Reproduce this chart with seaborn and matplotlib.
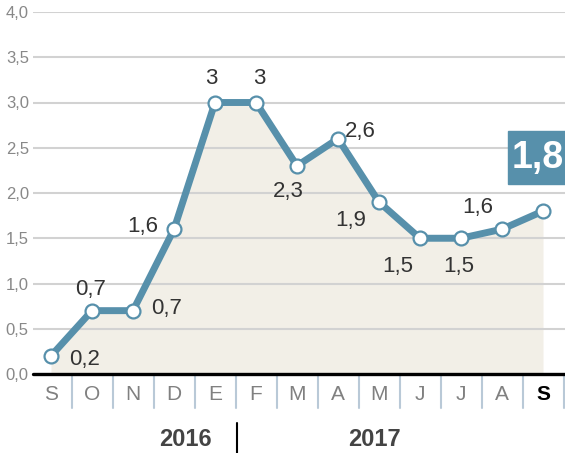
import matplotlib
matplotlib.use("Agg")
import matplotlib.pyplot as plt
import seaborn as sns
from matplotlib.patches import Rectangle
from matplotlib.lines import Line2D

# data
months = ["S", "O", "N", "D", "E", "F", "M", "A", "M", "J", "J", "A", "S"]
values = [0.2, 0.7, 0.7, 1.6, 3.0, 3.0, 2.3, 2.6, 1.9, 1.5, 1.5, 1.6, 1.8]
labels = ["0,2", "0,7", "0,7", "1,6", "3", "3", "2,3", "2,6", "1,9", "1,5", "1,5", "1,6", ""]
yticks = [0, 0.5, 1, 1.5, 2, 2.5, 3, 3.5, 4]
ytick_labels = ["0,0", "0,5", "1,0", "1,5", "2,0", "2,5", "3,0", "3,5", "4,0"]
years = ["2016", "2017"]
last_label = "1,8"

# label offsets in pixels (x, y up)
offsets = [(34, -4), (-1, 21), (34, 2), (-31, 3), (-4, 24), (3, 24),
           (-9, -26), (22, 7), (-28, -18), (-22, -28), (-2, -28), (-24, 22), (0, 0)]

blue = "#5790ab"
sns.set_style("white")
plt.rcParams["font.family"] = ["Liberation Sans", "DejaVu Sans"]

W, H = 565, 453
fig = plt.figure(figsize=(W / 100, H / 100), dpi=100)
ax = fig.add_axes([33 / W, 79 / H, (W - 33) / W, (374 - 12) / H])

x = list(range(len(values)))
ax.fill_between(x, values, 0, color="#f2efe7", zorder=0.3, lw=0)
sns.lineplot(x=x, y=values, ax=ax, color=blue, lw=5, marker="o", markersize=10,
             markerfacecolor="white", markeredgecolor=blue, markeredgewidth=1.6,
             zorder=3, clip_on=False)

for i, (lab, (dx, dy)) in enumerate(zip(labels, offsets)):
    if lab:
        ax.annotate(lab, (x[i], values[i]), xytext=(dx, dy), textcoords="offset pixels",
                    ha="center", va="center", fontsize=16, color="#333333", zorder=4)

ax.set_xlim((33 - 51) / 41, (565 - 51) / 41)
ax.set_ylim(0, 4)
ax.set_yticks(yticks)
ax.set_yticklabels(ytick_labels, fontsize=12, color="#888888")
ax.set_xticks(x)
ax.set_xticklabels(months, fontsize=15, color="#808080")
ax.get_xticklabels()[-1].set_fontweight("bold")
ax.get_xticklabels()[-1].set_color("black")
ax.tick_params(axis="both", length=0)
ax.tick_params(axis="y", pad=3)
ax.tick_params(axis="x", pad=8)
for s in ax.spines.values():
    s.set_visible(False)
ax.set_axisbelow(True)
ax.yaxis.grid(True, color="#d2d2d2", lw=1.5)
ax.xaxis.grid(False)
ax.set_xlabel("")
ax.set_ylabel("")

# baseline
ax.axhline(0, color="black", lw=2.4, zorder=2, clip_on=False)

# month separators
for i in range(len(months)):
    ax.plot([i + 0.5, i + 0.5], [0, -34 / 362], transform=ax.get_xaxis_transform(),
            color="#b9c9d7", lw=1.5, clip_on=False, zorder=1)

# years
fig.text(185 / W, (H - 439) / H, years[0], ha="center", va="center",
         fontsize=17, fontweight="bold", color="#444444")
fig.text(374 / W, (H - 439) / H, years[1], ha="center", va="center",
         fontsize=17, fontweight="bold", color="#444444")
fig.add_artist(Line2D([237 / W, 237 / W], [0, (H - 423) / H], color="black", lw=1.5))

# badge for the last value
fig.add_artist(Rectangle((508 / W, (H - 184) / H), 57 / W, 53 / H, color=blue,
                         transform=fig.transFigure, zorder=5))
fig.text(512 / W, (H - 158) / H, last_label, ha="left", va="center", fontsize=27,
         fontweight="bold", color="white", zorder=6)

fig.savefig("out.png", dpi=100)
